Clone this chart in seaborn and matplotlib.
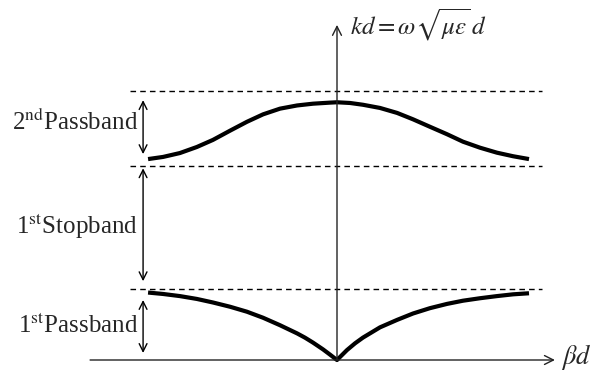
import numpy as np
import pandas as pd
import matplotlib
matplotlib.use("Agg")
import matplotlib.pyplot as plt
import seaborn as sns

# curve readings: beta*d in units of pi, kd in units of the 1st band edge
bd_upper = [-0.984, -0.906, -0.818, -0.730, -0.646, -0.557, -0.469, -0.385, -0.297,
            -0.208, -0.125, -0.036, 0.0, 0.068, 0.135, 0.224, 0.313, 0.396, 0.484,
            0.573, 0.656, 0.745, 0.833, 0.917, 1.0]
kd_upper = [2.83, 2.86, 2.915, 3.0, 3.10, 3.23, 3.355, 3.46, 3.54,
            3.585, 3.61, 3.625, 3.63, 3.62, 3.595, 3.55, 3.48, 3.39, 3.285,
            3.18, 3.075, 2.99, 2.92, 2.87, 2.83]

bd_lower = [-0.984, -0.906, -0.818, -0.730, -0.646, -0.557, -0.469, -0.385, -0.297,
            -0.208, -0.167, -0.125, -0.073, -0.036, 0.0, 0.052, 0.094, 0.135,
            0.224, 0.313, 0.396, 0.484, 0.573, 0.656, 0.745, 0.833, 0.917, 1.0]
kd_lower = [0.95, 0.93, 0.90, 0.86, 0.81, 0.75, 0.68, 0.595, 0.49,
            0.375, 0.315, 0.245, 0.15, 0.075, 0.0, 0.14, 0.235, 0.315,
            0.46, 0.565, 0.655, 0.73, 0.79, 0.835, 0.87, 0.90, 0.925, 0.94]

band_edges = [1.0, 2.73, 3.79]
band_labels = [r"1$^{\rm st}$Passband", r"1$^{\rm st}$Stopband", r"2$^{\rm nd}$Passband"]
band_spans = [(0.099, 0.845), (1.11, 2.70), (2.90, 3.66)]
band_label_y = [0.49, 1.90, 3.35]

sns.set_style("white")
plt.rcParams["font.family"] = ["Liberation Serif", "DejaVu Serif"]
plt.rcParams["mathtext.fontset"] = "stix"

fig = plt.figure(figsize=(6.07, 3.73), dpi=100)
ax = fig.add_axes([0, 0, 1, 1])
ax.set_xlim(-337 / 192, 270 / 192)
ax.set_ylim(-13 / 71, 360 / 71)
ax.axis("off")

df_up = pd.DataFrame({"bd": bd_upper, "kd": kd_upper})
df_lo = pd.DataFrame({"bd": bd_lower, "kd": kd_lower})
sns.lineplot(data=df_up, x="bd", y="kd", ax=ax, color="black", lw=3, sort=False,
             solid_capstyle="butt", solid_joinstyle="round")
sns.lineplot(data=df_lo, x="bd", y="kd", ax=ax, color="black", lw=3, sort=False,
             solid_capstyle="butt", solid_joinstyle="round")

# band edges
for e in band_edges:
    ax.plot([-1.078, 1.068], [e, e], color="black", lw=1, dashes=(4, 3))

# axes with open arrowheads
ax.annotate("", xy=(1.135, 0), xytext=(-1.286, 0),
            arrowprops=dict(arrowstyle="->", lw=1, color="#222222", mutation_scale=16,
                            shrinkA=0, shrinkB=0))
ax.annotate("", xy=(0, 4.72), xytext=(0, 0),
            arrowprops=dict(arrowstyle="->", lw=1, color="#222222", mutation_scale=16,
                            shrinkA=0, shrinkB=0))

ax.text(0.068, 4.58, r"$kd=\omega\sqrt{\mu\varepsilon}\,d$", fontsize=18, va="baseline")
ax.text(1.165, -0.06, r"$\beta d$", fontsize=19, va="baseline")

# band arrows and labels
for (lo, hi), lab, ly in zip(band_spans, band_labels, band_label_y):
    ax.annotate("", xy=(-1.01, hi), xytext=(-1.01, lo),
                arrowprops=dict(arrowstyle="<->", lw=1, color="black", mutation_scale=14,
                                shrinkA=0, shrinkB=0))
    ax.text(-1.036, ly, lab, fontsize=18, ha="right", va="center")

fig.savefig("out.png", dpi=100)
